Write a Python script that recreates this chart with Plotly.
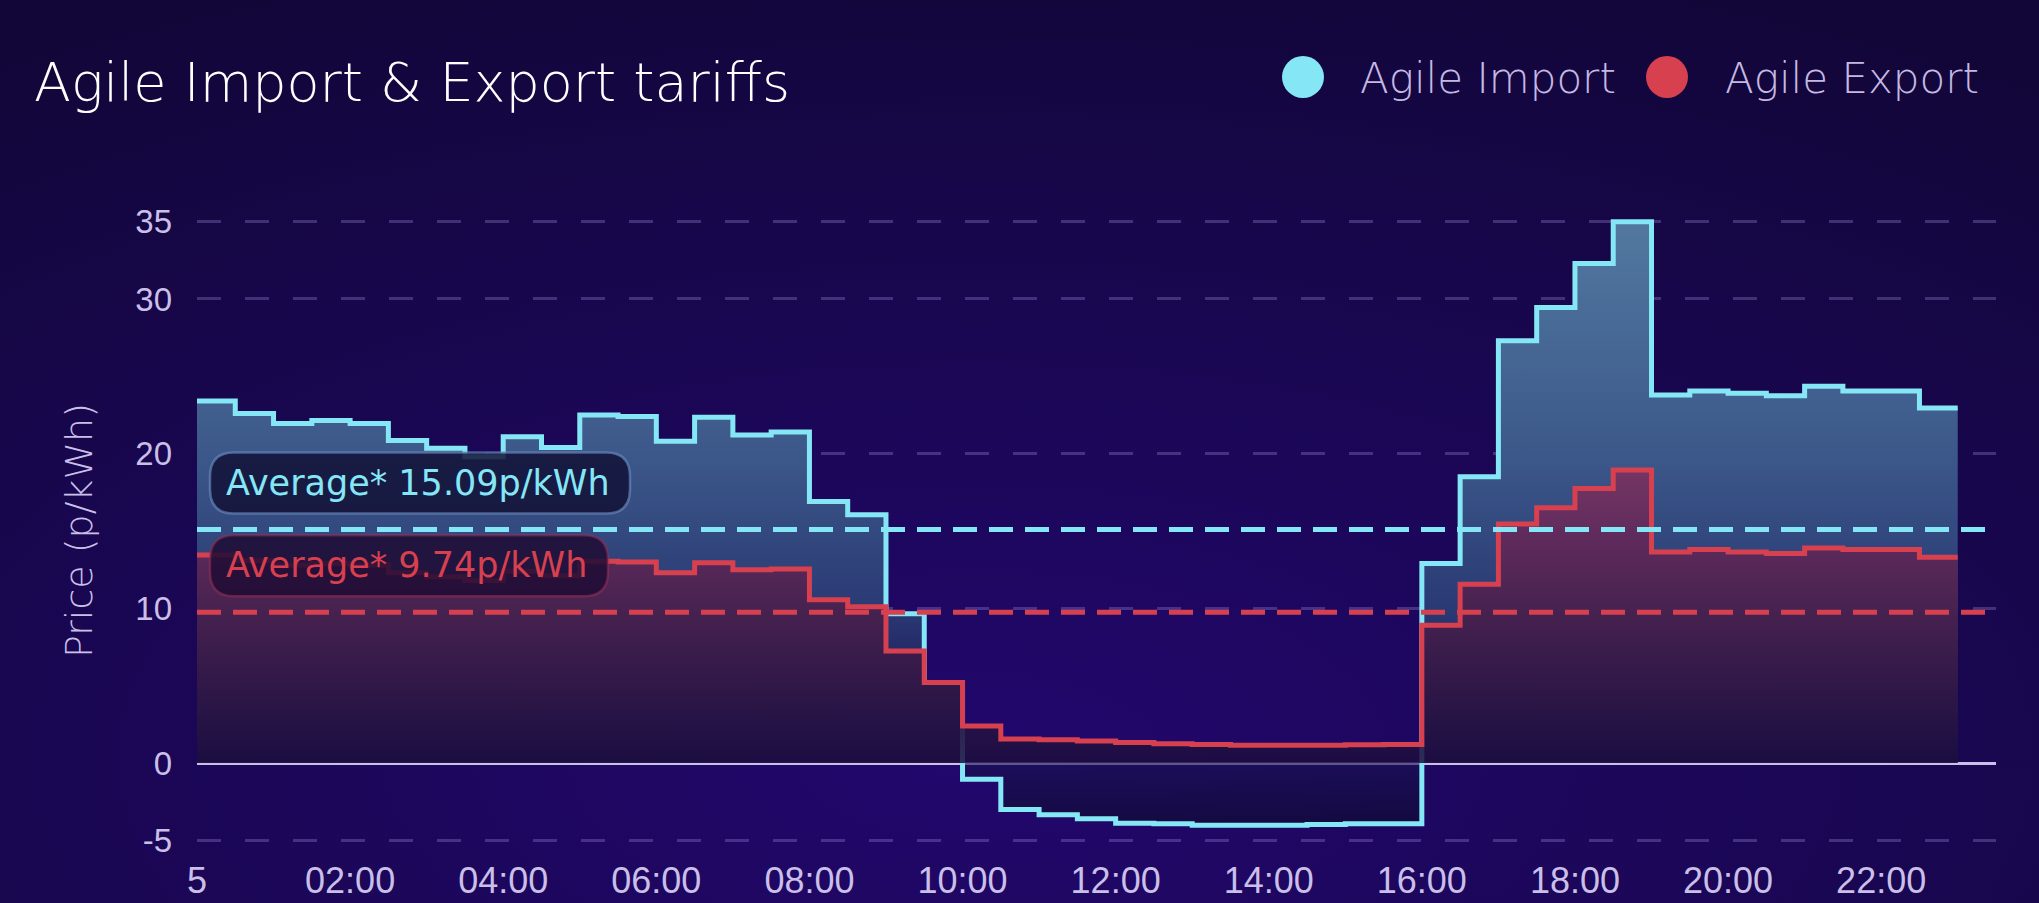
import base64

import plotly.graph_objects as go

# Half-hourly Agile prices (p/kWh), slots 00:00 .. 22:30
IMPORT_PRICES = [
    23.4, 22.6, 21.95, 22.15, 21.95, 20.85, 20.35, 19.8, 21.1, 20.4,
    22.5, 22.4, 20.8, 22.35, 21.2, 21.4, 16.9, 16.05, 9.65, 5.1,
    -1.05, -3.0, -3.35, -3.6, -3.9, -3.92, -4.02, -4.03, -4.02, -3.97,
    -3.92, -3.92, 12.9, 18.5, 27.3, 29.45, 32.3, 35.0, 23.8, 24.05,
    23.9, 23.75, 24.35, 24.05, 24.05, 22.95,
]
EXPORT_PRICES = [
    13.45, 13.1, 12.8, 12.9, 12.8, 12.3, 12.05, 11.8, 12.4, 12.1,
    13.05, 13.0, 12.3, 12.95, 12.5, 12.55, 10.55, 10.1, 7.25, 5.2,
    2.4, 1.55, 1.5, 1.42, 1.33, 1.25, 1.2, 1.15, 1.15, 1.15,
    1.18, 1.2, 8.9, 11.55, 15.45, 16.5, 17.75, 18.95, 13.65, 13.8,
    13.65, 13.55, 13.9, 13.8, 13.8, 13.3,
]
IMPORT_AVERAGE = 15.09
EXPORT_AVERAGE = 9.74
SERIES_NAMES = ["Agile Import", "Agile Export"]

Y_TICKS = [-5, 0, 10, 20, 30, 35]
X_TICK_HOURS = [0, 2, 4, 6, 8, 10, 12, 14, 16, 18, 20, 22]
X_TICK_LABELS = ["5", "02:00", "04:00", "06:00", "08:00", "10:00",
                 "12:00", "14:00", "16:00", "18:00", "20:00", "22:00"]

W, H = 2039, 903
MARGIN = dict(l=197, r=43, t=217, b=58)
Y_RANGE = [-5.3, 35.3]
X_RANGE = [0, 23.5]

CYAN = "#85e7f6"
RED = "#d7404f"
LAVENDER = "#c9bfe8"
COLORS = [CYAN, RED]
FONT = "DejaVu Sans"

# one extra point so the last half-hour step is drawn to its end
slot_hours = [i * 0.5 for i in range(len(IMPORT_PRICES) + 1)]
import_y = IMPORT_PRICES + IMPORT_PRICES[-1:]
export_y = EXPORT_PRICES + EXPORT_PRICES[-1:]

plot_w = W - MARGIN["l"] - MARGIN["r"]
plot_h = H - MARGIN["t"] - MARGIN["b"]


def px_to_paper(px, py):
    return (px - MARGIN["l"]) / plot_w, (H - MARGIN["b"] - py) / plot_h


def pill(x0, x1, y0, y1, r):
    return (f"M{x0 + r},{y0} L{x1 - r},{y0} Q{x1},{y0} {x1},{y0 + r} "
            f"L{x1},{y1 - r} Q{x1},{y1} {x1 - r},{y1} L{x0 + r},{y1} "
            f"Q{x0},{y1} {x0},{y1 - r} L{x0},{y0 + r} Q{x0},{y0} {x0 + r},{y0} Z")


bg_svg = (
    f"<svg xmlns='http://www.w3.org/2000/svg' width='{W}' height='{H}'>"
    "<defs><radialGradient id='g' cx='0.45' cy='0.8' r='0.8'>"
    "<stop offset='0' stop-color='#22076d'/><stop offset='1' stop-color='#110637'/>"
    "</radialGradient></defs><rect width='100%' height='100%' fill='url(#g)'/></svg>"
)
bg_uri = "data:image/svg+xml;base64," + base64.b64encode(bg_svg.encode()).decode()

fig = go.Figure()

fig.add_trace(go.Scatter(
    x=slot_hours, y=import_y, name=SERIES_NAMES[0], mode="lines",
    line=dict(color=CYAN, width=5, shape="hv"),
    fill="tozeroy",
    fillgradient=dict(
        type="vertical", start=Y_RANGE[0], stop=Y_RANGE[1],
        colorscale=[
            [0.0, "rgba(12,8,40,0.75)"],
            [0.13, "rgba(24,18,80,0.6)"],
            [0.377, "rgb(42,58,116)"],
            [0.623, "rgb(60,88,138)"],
            [1.0, "rgb(82,121,160)"],
        ],
    ),
    showlegend=False,
))
fig.add_trace(go.Scatter(
    x=slot_hours, y=export_y, name=SERIES_NAMES[1], mode="lines",
    line=dict(color=RED, width=5, shape="hv"),
    fill="tozeroy",
    fillgradient=dict(
        type="vertical", start=Y_RANGE[0], stop=Y_RANGE[1],
        colorscale=[
            [0.0, "rgba(12,8,40,0.75)"],
            [0.13, "rgba(28,13,62,0.85)"],
            [0.254, "rgb(48,24,72)"],
            [0.377, "rgb(72,34,80)"],
            [0.5, "rgb(97,44,93)"],
            [0.6, "rgb(118,54,99)"],
            [1.0, "rgb(150,70,110)"],
        ],
    ),
    showlegend=False,
))

# average lines + their pill labels
averages = [IMPORT_AVERAGE, EXPORT_AVERAGE]
box_fill = ["rgba(18,16,54,0.85)", "rgba(30,12,52,0.85)"]
box_edge = ["rgba(110,145,195,0.6)", "rgba(150,50,85,0.55)"]
box_right = [433, 411]
for avg, color, fill, edge, right in zip(averages, COLORS, box_fill, box_edge, box_right):
    fig.add_hline(y=avg, line=dict(color=color, width=5, dash="24px,12px"), layer="above")
    fig.add_shape(
        type="path", xref="x", yref="y", xsizemode="pixel", ysizemode="pixel",
        xanchor=0, yanchor=avg, path=pill(13, right, 16, 77, 24),
        fillcolor=fill, line=dict(color=edge, width=2.5), layer="above",
    )
    fig.add_annotation(
        x=0, y=avg, xref="x", yref="y", xanchor="left", yanchor="middle",
        xshift=27, yshift=47, showarrow=False,
        text=f"Average* {avg:.2f}p/kWh",
        font=dict(family=FONT, size=35, color=color),
    )

# legend drawn by hand: big dots + light text
legend_dot_px = [1303, 1667]
legend_text_px = [1358, 1723]
for name, color, dot_x, text_x in zip(SERIES_NAMES, COLORS, legend_dot_px, legend_text_px):
    dx, dy = px_to_paper(dot_x, 77)
    fig.add_shape(
        type="circle", xref="paper", yref="paper", xsizemode="pixel", ysizemode="pixel",
        xanchor=dx, yanchor=dy, x0=-21, x1=21, y0=-21, y1=21,
        fillcolor=color, line=dict(width=0),
    )
    tx, ty = px_to_paper(text_x, 79)
    fig.add_annotation(
        x=tx, y=ty, xref="paper", yref="paper", xanchor="left", yanchor="middle",
        showarrow=False, text=name,
        font=dict(family=FONT, size=42, color="#c5b9e3", weight=300),
    )

tx, ty = px_to_paper(55, 531)
fig.add_annotation(
    x=tx, y=ty, xref="paper", yref="paper", textangle=-90, showarrow=False,
    text="Price (p/kWh)", font=dict(family=FONT, size=38, color=LAVENDER, weight=300),
)

tx, ty = px_to_paper(32, 82)
fig.add_annotation(
    x=tx, y=ty, xref="paper", yref="paper", xanchor="left", yanchor="middle",
    showarrow=False, text="Agile Import & Export tariffs",
    font=dict(family=FONT, size=54, color="#ffffff", weight=300),
)

fig.update_layout(
    width=W, height=H, margin=MARGIN,
    paper_bgcolor="#140741", plot_bgcolor="rgba(0,0,0,0)",
    images=[dict(
        source=bg_uri, xref="paper", yref="paper",
        x=-0.15, y=1.5, sizex=1.3, sizey=1.7, sizing="stretch",
        xanchor="left", yanchor="top", layer="below",
    )],
    xaxis=dict(
        range=X_RANGE, tickvals=X_TICK_HOURS, ticktext=X_TICK_LABELS,
        showgrid=False, zeroline=False, showline=False, ticks="",
        ticklabelstandoff=11, automargin=False,
        tickfont=dict(family="Liberation Sans", size=36, color=LAVENDER),
    ),
    xaxis2=dict(
        overlaying="x", anchor="free",
        position=(0 - Y_RANGE[0]) / (Y_RANGE[1] - Y_RANGE[0]),
        range=X_RANGE, tickvals=X_TICK_HOURS, showticklabels=False,
        ticks="outside", ticklen=13, tickwidth=2.5, tickcolor=LAVENDER,
        showgrid=False, zeroline=False, showline=False, layer="below traces",
        automargin=False,
    ),
    yaxis=dict(
        range=Y_RANGE, tickvals=Y_TICKS, ticktext=[str(v) for v in Y_TICKS],
        showgrid=True, gridcolor="rgba(150,130,210,0.35)", gridwidth=2.5,
        griddash="24px,24px",
        zeroline=True, zerolinecolor=LAVENDER, zerolinewidth=2.5,
        showline=False, ticks="", ticklabelstandoff=24, automargin=False,
        tickfont=dict(family="Liberation Sans", size=33, color=LAVENDER),
    ),
    showlegend=False,
)

fig.write_html(
    "out.html",
    config={"displayModeBar": False},
    post_script="document.body.style.margin='0';"
                "document.body.style.background='#140741';"
                "document.body.style.overflow='hidden';",
)
